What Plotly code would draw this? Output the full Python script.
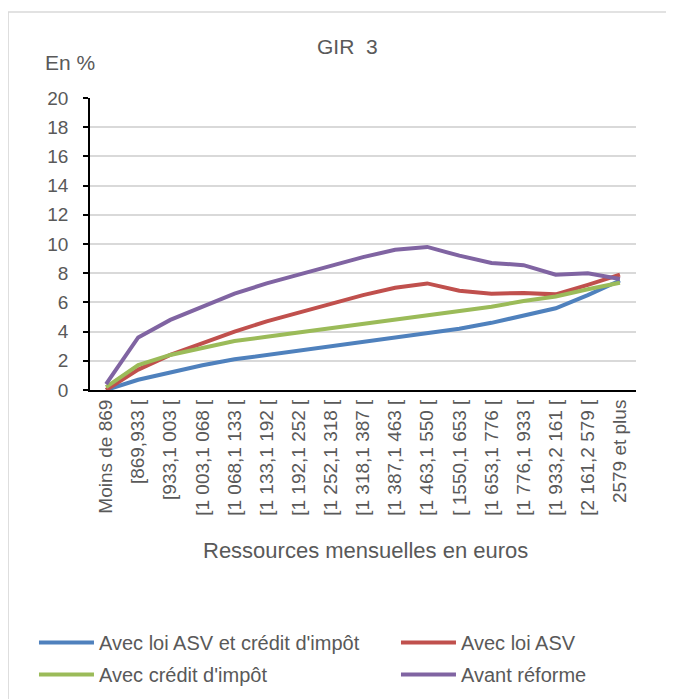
import plotly.graph_objects as go

# Tranches de ressources mensuelles (euros)
categories = ["Moins de 869", "[869,933 [", "[933,1 003 [", "[1 003,1 068 [", "[1 068,1 133 [",
              "[1 133,1 192 [", "[1 192,1 252 [", "[1 252,1 318 [", "[1 318,1 387 [",
              "[1 387,1 463 [", "[1 463,1 550 [", "[ 1550,1 653 [", "[1 653,1 776 [",
              "[1 776,1 933 [", "[1 933,2 161 [", "[2 161,2 579 [", "2579 et plus"]

asv_credit = [0.0, 0.7, 1.2, 1.7, 2.1, 2.4, 2.7, 3.0, 3.3, 3.55, 3.9, 4.2, 4.6, 5.1, 5.6, 6.5, 7.5]
asv = [0.0, 1.4, 2.4, 3.2, 4.0, 4.7, 5.3, 5.9, 6.5, 7.0, 7.3, 6.8, 6.6, 6.65, 6.55, 7.2, 7.9]
credit = [0.2, 1.7, 2.4, 2.9, 3.35, 3.65, 3.95, 4.25, 4.55, 4.8, 5.1, 5.4, 5.7, 6.1, 6.4, 6.9, 7.35]
avant = [0.4, 3.6, 4.8, 5.7, 6.6, 7.3, 7.9, 8.5, 9.1, 9.6, 9.8, 9.2, 8.7, 8.55, 7.9, 8.0, 7.6]

y_ticks = list(range(0, 21, 2))

FONT = "Liberation Sans Narrow, Arial Narrow, Liberation Sans, sans-serif"
GREY = "#595959"

# (nom, valeurs, couleur, légende) -> deux colonnes de légende
series = [
    ("Avec loi ASV et crédit d'impôt", asv_credit, "#4f81bd", "legend"),
    ("Avec loi ASV", asv, "#c0504d", "legend2"),
    ("Avec crédit d'impôt", credit, "#9bbb59", "legend"),
    ("Avant réforme", avant, "#8064a2", "legend2"),
]

fig = go.Figure()
for name, vals, col, leg in series:
    fig.add_trace(go.Scatter(x=categories, y=vals, name=name, mode="lines",
                             line=dict(color=col, width=4), legend=leg,
                             legendgroup=name))

leg_common = dict(orientation="v", xanchor="left", y=-0.798, yanchor="top",
                  itemwidth=55, tracegroupgap=3, bgcolor="rgba(0,0,0,0)",
                  font=dict(size=20, color=GREY))

fig.update_layout(
    width=666, height=691,
    plot_bgcolor="white", paper_bgcolor="white",
    font=dict(family=FONT, size=18, color=GREY),
    margin=dict(l=82, r=38, t=90, b=309, autoexpand=False),
    showlegend=True,
    legend=dict(x=-0.1026, **leg_common),
    legend2=dict(x=0.5604, **leg_common),
    xaxis=dict(type="category", tickangle=-90, showgrid=False, showline=True,
               linecolor="black", linewidth=2, ticks="", tickfont=dict(size=19),
               range=[-0.5, len(categories) - 0.5], automargin=False),
    yaxis=dict(range=[0, 20], tickvals=y_ticks, showgrid=True, gridcolor="#d9d9d9",
               gridwidth=1.5, showline=True, linecolor="black", linewidth=1.5,
               ticks="outside", ticklen=5, tickcolor="black", tickwidth=1.5,
               ticklabelstandoff=11, tickfont=dict(size=19), zeroline=False,
               automargin=False),
    annotations=[
        dict(text="GIR\u00a0 3", x=0.4707, y=1.178, xref="paper", yref="paper",
             xanchor="center", yanchor="middle", showarrow=False,
             font=dict(size=21, color=GREY)),
        dict(text="En %", x=-0.086, y=1.12, xref="paper", yref="paper",
             xanchor="left", yanchor="middle", showarrow=False,
             font=dict(size=21, color=GREY)),
        dict(text="Ressources mensuelles en euros", x=0.504, y=-0.548,
             xref="paper", yref="paper", xanchor="center", yanchor="middle",
             showarrow=False, font=dict(size=22, color=GREY)),
    ],
    shapes=[
        dict(type="rect", xref="paper", yref="paper", x0=-0.150, y0=-1.2,
             x1=1.2, y1=1.2945, line=dict(color="#d9d9d9", width=1.5), layer="below"),
    ],
)

fig.write_html("out.html")
